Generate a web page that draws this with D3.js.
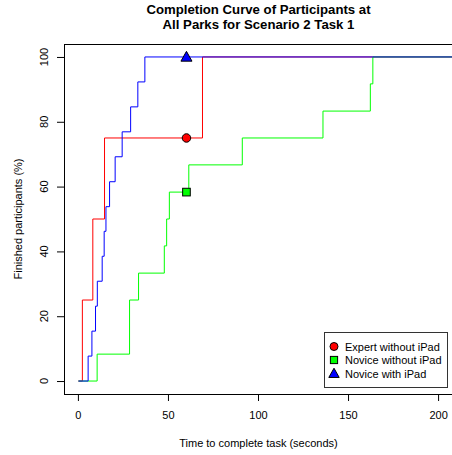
<!DOCTYPE html>
<html><head><meta charset="utf-8">
<script src="https://cdn.jsdelivr.net/npm/d3@7"></script>
<style>body{margin:0;background:#fff}svg{display:block;font-family:"Liberation Sans",Arial,sans-serif}</style>
</head><body><svg id="c" width="452" height="455"></svg>
<script>
const seriesNames = ["Expert without iPad", "Novice without iPad", "Novice with iPad"];
const seriesColors = ["#ff0000", "#00ff00", "#0000ff"];
const seriesShapes = ["circle", "square", "triangle"];
const expertTimes = [0, 2.2, 8, 14.5, 68.9];
const expertPct   = [0, 25, 50, 75, 100];
const noviceTimes = [0, 10.4, 28.4, 33.4, 47.7, 49, 50.5, 61.3, 91, 135.8, 162.1, 163.5];
const novicePct   = [0, 8.3, 25, 33.3, 41.7, 50, 58.3, 66.7, 75, 83.3, 91.7, 100];
const ipadTimes   = [0, 5.4, 7.5, 9.5, 10.5, 13.2, 14.3, 15.3, 17.3, 20.4, 24.3, 29, 33, 36.9];
const ipadPct     = [0, 7.7, 15.4, 23.1, 30.8, 38.5, 46.2, 53.8, 61.5, 69.2, 76.9, 84.6, 92.3, 100];
const markerTime = 60;
const markerPct = [75, 58.3, 100];
const xTicks = [0, 50, 100, 150, 200];
const yTicks = [0, 20, 40, 60, 80, 100];
const titleLines = ["Completion Curve of Participants at", "All Parks for Scenario 2 Task 1"];
const xLabel = "Time to complete task (seconds)";
const yLabel = "Finished participants (%)";

const svg = d3.select("#c");
const L = 64, R = 453, T = 44, B = 394;
const x = d3.scaleLinear().domain([-8, 208]).range([L, R]);
const y = d3.scaleLinear().domain([-4, 104]).range([B, T]);

svg.append("defs").append("clipPath").attr("id","clip")
  .append("rect").attr("x",L).attr("y",T).attr("width",R-L).attr("height",B-T);

const series = [[expertTimes, expertPct],[noviceTimes, novicePct],[ipadTimes, ipadPct]];
const line = d3.line().x(d=>x(d[0])).y(d=>y(d[1])).curve(d3.curveStepAfter);
series.forEach((s,i)=>{
  const pts = s[0].map((t,j)=>[t, s[1][j]]);
  pts.push([x.domain()[1], s[1][s[1].length-1]]);
  svg.append("path").attr("d", line(pts)).attr("fill","none")
    .attr("stroke", seriesColors[i]).attr("stroke-width",1).attr("clip-path","url(#clip)");
});

function sym(g, shape, cx, cy, color, size){
  if(shape==="circle") g.append("circle").attr("cx",cx).attr("cy",cy).attr("r",size/2);
  else if(shape==="square") g.append("rect").attr("x",cx-size*0.45).attr("y",cy-size*0.45).attr("width",size*0.9).attr("height",size*0.9);
  else { const h=size*1.1, w=size*1.3;
    g.append("path").attr("d",`M${cx},${cy-h*0.6}L${cx+w/2},${cy+h*0.45}L${cx-w/2},${cy+h*0.45}Z`); }
  g.selectAll("*").attr("fill",color).attr("stroke","#000").attr("stroke-width",1);
}
markerPct.forEach((p,i)=>{
  sym(svg.append("g"), seriesShapes[i], x(markerTime), y(p), seriesColors[i], 8.5);
});

// box
svg.append("rect").attr("x",L+0.5).attr("y",T+0.5).attr("width",R-L).attr("height",B-T)
  .attr("fill","none").attr("stroke","#000");

// x axis
const xa = svg.append("g");
xTicks.forEach(t=>{
  xa.append("line").attr("x1",x(t)).attr("x2",x(t)).attr("y1",B).attr("y2",B+7).attr("stroke","#000");
  xa.append("text").attr("x",x(t)).attr("y",419).attr("text-anchor","middle").attr("font-size",11).text(t);
});
// y axis
const ya = svg.append("g");
yTicks.forEach(t=>{
  ya.append("line").attr("x1",L-7).attr("x2",L).attr("y1",y(t)+0.5).attr("y2",y(t)+0.5).attr("stroke","#000");
  ya.append("text").attr("transform",`translate(48,${y(t)}) rotate(-90)`).attr("text-anchor","middle").attr("font-size",11).text(t);
});

svg.append("text").attr("x",(L+R)/2).attr("y",447).attr("text-anchor","middle").attr("font-size",11).text(xLabel);
svg.append("text").attr("transform",`translate(22,${(T+B)/2}) rotate(-90)`).attr("text-anchor","middle").attr("font-size",11).text(yLabel);

titleLines.forEach((t,i)=>{
  svg.append("text").attr("x",(L+R)/2).attr("y",13.5+i*15).attr("text-anchor","middle")
    .attr("font-size",13.2).attr("font-weight","bold").text(t);
});

// legend
const lg = svg.append("g");
lg.append("rect").attr("x",324.5).attr("y",332.5).attr("width",123).attr("height",55)
  .attr("fill","#fff").attr("stroke","#333");
seriesNames.forEach((n,i)=>{
  const cy = 346.5 + i*13.5;
  sym(lg.append("g"), seriesShapes[i], 334, cy, seriesColors[i], 8);
  lg.append("text").attr("x",345).attr("y",cy+4).attr("font-size",11).text(n);
});
</script></body></html>
